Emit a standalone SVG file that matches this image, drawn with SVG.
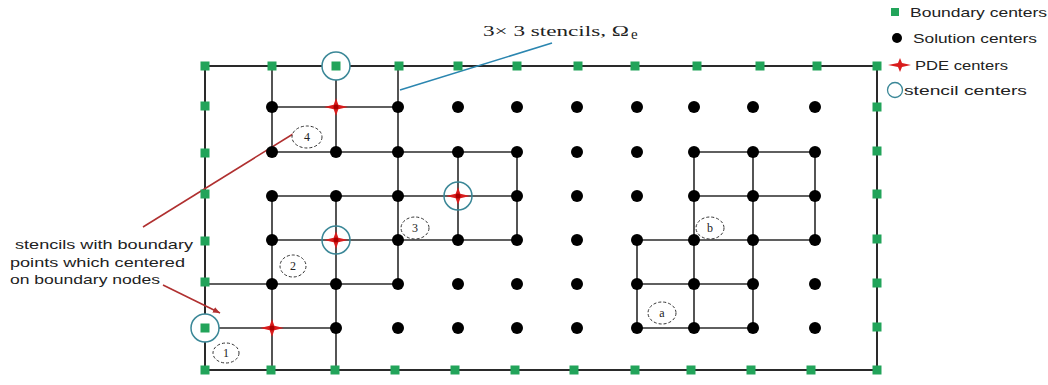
<svg xmlns="http://www.w3.org/2000/svg" xmlns:xlink="http://www.w3.org/1999/xlink" width="1048" height="385" viewBox="0 0 1048 385">
<style>
.bd{fill:none;stroke:#2a2a2a;stroke-width:2}
.ln{fill:none;stroke:#2b2b2b;stroke-width:1.6}
.sq{fill:#22a45a}
.dot{fill:#000}
.star{fill:#d91c1c}
.sc{fill:#fff;stroke:#3a8797;stroke-width:1.5}
.lbl{fill:#fff;stroke:#333;stroke-width:1;stroke-dasharray:3 2}
.lt{font-family:"Liberation Serif",serif;font-size:12px;fill:#222;text-anchor:middle}
.sans{font-family:"Liberation Sans",Arial,sans-serif;font-size:13px;fill:#222}
.serif{font-family:"Liberation Serif",serif;font-size:15px;fill:#222}
</style>
<defs>
<rect id="sqr" class="sq" x="-4.5" y="-4.5" width="9" height="9"/>
<circle id="sd" class="dot" cx="0" cy="0" r="6"/>
<g id="pde"><path class="star" d="M0,-9 L2.3,-2.3 L12,0 L2.3,2.3 L0,9 L-2.3,2.3 L-12,0 L-2.3,-2.3 Z"/><circle cx="0" cy="0" r="2.5" fill="#a00"/></g>
<marker id="ah" markerWidth="8" markerHeight="8" refX="7" refY="4" orient="auto" markerUnits="userSpaceOnUse"><path d="M0,1 L7,4 L0,7 Z" fill="#b03030"/></marker>
</defs>
<rect width="1048" height="385" fill="#fff"/>

<g id="connectors">
<rect class="bd" x="205" y="66" width="672" height="304"/>
<path class="ln" d="M272,107H398 M272,152H517 M272,66V152 M336,66V152 M398,66V284 M272,196H517 M272,240H517 M458,152V240 M517,152V240 M205,284H398 M272,196V370 M336,196V370 M205,328H336"/>
<path class="ln" d="M694,152H815 M694,196H815 M637,240H815 M637,284H753 M637,328H753 M694,152V328 M753,152V328 M815,152V240 M637,240V328"/>
<line x1="552" y1="43" x2="400" y2="90" stroke="#2b86b0" stroke-width="1.6"/>
<line x1="143" y1="227" x2="293" y2="134" stroke="#b03030" stroke-width="1.6"/>
<line x1="163" y1="285" x2="220" y2="313" stroke="#b03030" stroke-width="1.6" marker-end="url(#ah)"/>
</g>

<g id="boundary-centers">
<use href="#sqr" x="205" y="66"/><use href="#sqr" x="272" y="66"/><use href="#sqr" x="399" y="66"/><use href="#sqr" x="458" y="66"/><use href="#sqr" x="517" y="66"/><use href="#sqr" x="578" y="66"/><use href="#sqr" x="635" y="66"/><use href="#sqr" x="697" y="66"/><use href="#sqr" x="760" y="66"/><use href="#sqr" x="817" y="66"/><use href="#sqr" x="877" y="66"/>
<use href="#sqr" x="205" y="370"/><use href="#sqr" x="271" y="370"/><use href="#sqr" x="335" y="370"/><use href="#sqr" x="395" y="370"/><use href="#sqr" x="455" y="370"/><use href="#sqr" x="515" y="370"/><use href="#sqr" x="574" y="370"/><use href="#sqr" x="635" y="370"/><use href="#sqr" x="691" y="370"/><use href="#sqr" x="751" y="370"/><use href="#sqr" x="811" y="370"/><use href="#sqr" x="877" y="370"/>
<use href="#sqr" x="205" y="106"/><use href="#sqr" x="205" y="153"/><use href="#sqr" x="205" y="194"/><use href="#sqr" x="205" y="241"/><use href="#sqr" x="205" y="282"/>
<use href="#sqr" x="877" y="107"/><use href="#sqr" x="877" y="151"/><use href="#sqr" x="877" y="194"/><use href="#sqr" x="877" y="239"/><use href="#sqr" x="877" y="283"/><use href="#sqr" x="877" y="327"/>
</g>

<g id="solution-centers">
<use href="#sd" x="272" y="107"/><use href="#sd" x="398" y="107"/><use href="#sd" x="458" y="107"/><use href="#sd" x="517" y="107"/><use href="#sd" x="577" y="107"/><use href="#sd" x="637" y="107"/><use href="#sd" x="694" y="107"/><use href="#sd" x="753" y="107"/><use href="#sd" x="815" y="107"/>
<use href="#sd" x="272" y="152"/><use href="#sd" x="336" y="152"/><use href="#sd" x="398" y="152"/><use href="#sd" x="458" y="152"/><use href="#sd" x="517" y="152"/><use href="#sd" x="577" y="152"/><use href="#sd" x="637" y="152"/><use href="#sd" x="694" y="152"/><use href="#sd" x="753" y="152"/><use href="#sd" x="815" y="152"/>
<use href="#sd" x="272" y="196"/><use href="#sd" x="336" y="196"/><use href="#sd" x="398" y="196"/><use href="#sd" x="517" y="196"/><use href="#sd" x="577" y="196"/><use href="#sd" x="637" y="196"/><use href="#sd" x="694" y="196"/><use href="#sd" x="753" y="196"/><use href="#sd" x="815" y="196"/>
<use href="#sd" x="272" y="240"/><use href="#sd" x="398" y="240"/><use href="#sd" x="458" y="240"/><use href="#sd" x="517" y="240"/><use href="#sd" x="577" y="240"/><use href="#sd" x="637" y="240"/><use href="#sd" x="694" y="240"/><use href="#sd" x="753" y="240"/><use href="#sd" x="815" y="240"/>
<use href="#sd" x="272" y="284"/><use href="#sd" x="336" y="284"/><use href="#sd" x="398" y="284"/><use href="#sd" x="458" y="284"/><use href="#sd" x="517" y="284"/><use href="#sd" x="577" y="284"/><use href="#sd" x="637" y="284"/><use href="#sd" x="694" y="284"/><use href="#sd" x="753" y="284"/><use href="#sd" x="815" y="284"/>
<use href="#sd" x="336" y="328"/><use href="#sd" x="398" y="328"/><use href="#sd" x="458" y="328"/><use href="#sd" x="517" y="328"/><use href="#sd" x="577" y="328"/><use href="#sd" x="637" y="328"/><use href="#sd" x="694" y="328"/><use href="#sd" x="753" y="328"/><use href="#sd" x="815" y="328"/>
</g>

<g id="stencil-top"><circle class="sc" cx="336" cy="66" r="14"/><use href="#sqr" x="336" y="66"/></g>
<g id="stencil-left"><circle class="sc" cx="205" cy="328" r="14"/><use href="#sqr" x="205" y="328"/></g>
<g id="stencil-3c"><circle class="sc" cx="458" cy="196" r="14" fill-opacity="0"/><use href="#pde" x="458" y="196"/></g>
<g id="stencil-2c"><circle class="sc" cx="336" cy="240" r="14" fill-opacity="0"/><use href="#pde" x="336" y="240"/></g>
<g id="pde-4"><use href="#pde" x="336" y="107"/></g>
<g id="pde-1"><use href="#pde" x="272" y="328"/></g>

<g id="label-4"><ellipse class="lbl" cx="307" cy="137" rx="15" ry="11"/><text class="lt" x="307" y="141">4</text></g>
<g id="label-2"><ellipse class="lbl" cx="293" cy="266" rx="13" ry="11"/><text class="lt" x="293" y="270">2</text></g>
<g id="label-3"><ellipse class="lbl" cx="415" cy="228" rx="14" ry="11"/><text class="lt" x="415" y="232">3</text></g>
<g id="label-1"><ellipse class="lbl" cx="226" cy="353" rx="13" ry="10"/><text class="lt" x="226" y="357">1</text></g>
<g id="label-b"><ellipse class="lbl" cx="710" cy="228" rx="14" ry="11"/><text class="lt" x="710" y="232">b</text></g>
<g id="label-a"><ellipse class="lbl" cx="662" cy="313" rx="14" ry="11"/><text class="lt" x="662" y="317">a</text></g>

<g id="note-stencils">
<text class="serif" x="483" y="36" textLength="146" lengthAdjust="spacingAndGlyphs">3× 3 stencils, Ω</text>
<text class="serif" x="631" y="39" font-size="10">e</text>
</g>
<g id="note-boundary">
<text class="sans" x="15" y="249" textLength="178" lengthAdjust="spacingAndGlyphs">stencils with boundary</text>
<text class="sans" x="10" y="267" textLength="175" lengthAdjust="spacingAndGlyphs">points which centered</text>
<text class="sans" x="10" y="284" textLength="150" lengthAdjust="spacingAndGlyphs">on boundary nodes</text>
</g>

<g id="legend">
<rect class="sq" x="891" y="8" width="8" height="8"/>
<text class="sans" x="910" y="17" textLength="137" lengthAdjust="spacingAndGlyphs">Boundary centers</text>
<circle class="dot" cx="897" cy="38" r="5"/>
<text class="sans" x="913" y="43" textLength="124" lengthAdjust="spacingAndGlyphs">Solution centers</text>
<path class="star" d="M900,58 L902,63 L911,65 L902,67 L900,72 L898,67 L888,65 L898,63 Z"/>
<text class="sans" x="915" y="70" textLength="93" lengthAdjust="spacingAndGlyphs">PDE centers</text>
<circle cx="895" cy="90" r="7.5" fill="none" stroke="#3a8797" stroke-width="1.3"/>
<text class="sans" x="904" y="95" textLength="123" lengthAdjust="spacingAndGlyphs">stencil centers</text>
</g>
</svg>
